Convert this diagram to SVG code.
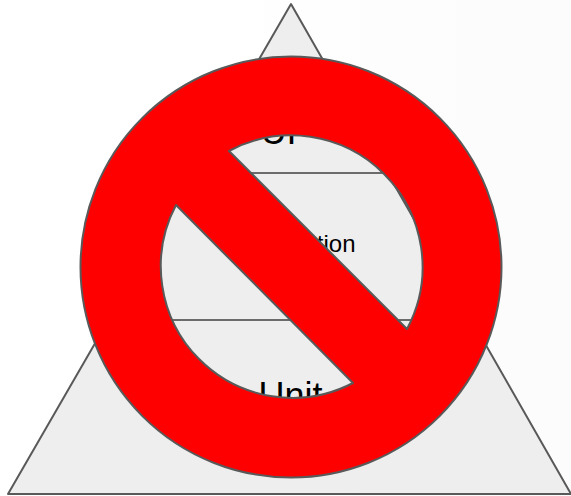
<svg xmlns="http://www.w3.org/2000/svg" width="571" height="496" viewBox="0 0 571 496">
<style>
.tri{fill:#eeeeee;stroke:#595959;stroke-width:2;stroke-linejoin:round}
.div{fill:none;stroke:#6b6b6b;stroke-width:2}
.lbl{font-family:"Liberation Sans",Arial,sans-serif;fill:#000}
.no{fill:#ff0000;fill-rule:evenodd;stroke:#595959;stroke-width:2;stroke-linejoin:round}
</style>
<defs><linearGradient id="bg" x1="0" x2="1" y1="0" y2="0"><stop offset="0.4" stop-color="#ffffff"/><stop offset="0.85" stop-color="#fcfcfc"/></linearGradient></defs>
<rect width="571" height="496" fill="url(#bg)"/>
<g id="pyramid">
<path class="tri" d="M291 4L571 494H8Z"/>
</g>
<g id="connectors">
<path class="div" d="M200 173H395M120 320H440"/>
</g>
<g id="layer-ui"><text class="lbl" x="260.500" y="144" font-size="36">UI</text></g>
<g id="layer-integration"><text class="lbl" x="355.500" y="252" font-size="24" text-anchor="end">Integration</text></g>
<g id="layer-unit"><text class="lbl" x="258.500" y="408" font-size="36">Unit</text></g>
<g id="no-sign">
<path class="no" d="M80.500 267A210.500 210.500 0 1 1 501.500 267A210.500 210.500 0 1 1 80.500 267ZM176 205A131.500 131.500 0 0 0 353 383ZM229 151L407 329A131.500 131.500 0 0 0 229 151Z"/>
</g>
</svg>
